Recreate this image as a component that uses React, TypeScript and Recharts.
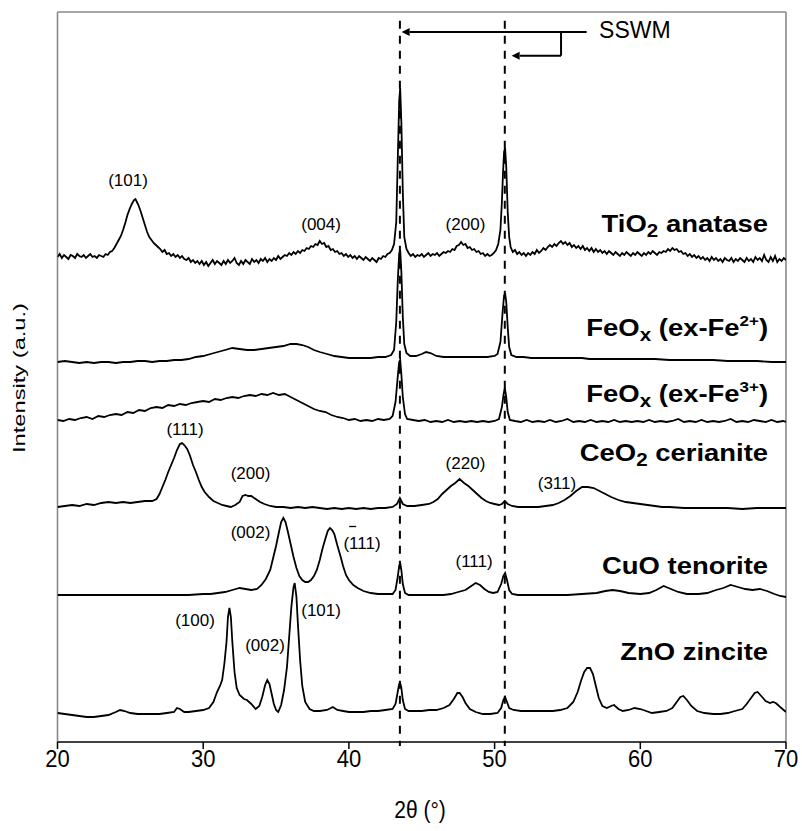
import React from "react";
import { LineChart, Line, XAxis, YAxis, ReferenceLine, ReferenceDot } from "recharts";

const FONT = "'Liberation Sans', Arial, Helvetica, sans-serif";

const X_TICKS = [20, 30, 40, 50, 60, 70];
const X_DOMAIN: [number, number] = [20, 70];
const Y_DOMAIN: [number, number] = [0, 730];

// 2theta (deg), stacked intensity (a.u.)
const TIO2: number[][] = [
  [20.0, 485], [20.15, 488], [20.3, 484], [20.45, 487], [20.6, 485], [20.75, 483], [20.9, 487], [21.05, 486], [21.2, 484], [21.35, 488],
  [21.5, 486], [21.65, 485], [21.8, 487], [21.95, 484], [22.1, 486], [22.25, 488], [22.4, 485], [22.55, 486], [22.7, 484], [22.85, 487],
  [23.0, 486], [23.15, 485], [23.3, 488], [23.45, 487], [23.6, 490], [23.75, 491], [23.9, 494], [24.05, 498], [24.2, 502], [24.35, 506],
  [24.5, 512], [24.65, 519], [24.8, 527], [24.95, 533], [25.1, 538], [25.25, 542], [25.35, 543], [25.45, 540], [25.55, 537], [25.7, 531],
  [25.85, 524], [26.0, 517], [26.15, 510], [26.3, 505], [26.45, 502], [26.6, 499], [26.75, 497], [26.9, 495], [27.05, 493], [27.2, 490],
  [27.35, 492], [27.5, 488], [27.65, 489], [27.8, 486], [27.95, 488], [28.1, 485], [28.25, 487], [28.4, 484], [28.55, 486], [28.7, 483],
  [28.85, 482], [29.0, 484], [29.15, 480], [29.3, 482], [29.45, 479], [29.6, 481], [29.75, 478], [29.9, 481], [30.05, 477], [30.2, 480],
  [30.35, 476], [30.5, 479], [30.65, 482], [30.8, 478], [30.95, 481], [31.1, 479], [31.25, 477], [31.4, 481], [31.55, 478], [31.7, 482],
  [31.85, 479], [32.0, 481], [32.15, 484], [32.3, 479], [32.45, 477], [32.6, 481], [32.75, 478], [32.9, 482], [33.05, 480], [33.2, 478],
  [33.35, 483], [33.5, 480], [33.65, 482], [33.8, 479], [33.95, 483], [34.1, 481], [34.25, 484], [34.4, 480], [34.55, 483], [34.7, 481],
  [34.85, 484], [35.0, 482], [35.15, 486], [35.3, 483], [35.45, 485], [35.6, 487], [35.75, 486], [35.9, 489], [36.05, 487], [36.2, 490],
  [36.35, 488], [36.5, 491], [36.65, 489], [36.8, 492], [36.95, 491], [37.1, 494], [37.25, 493], [37.4, 496], [37.55, 495], [37.7, 498],
  [37.85, 497], [38.0, 501], [38.15, 498], [38.3, 499], [38.45, 495], [38.6, 496], [38.75, 492], [38.9, 493], [39.05, 490], [39.2, 491],
  [39.35, 488], [39.5, 489], [39.65, 486], [39.8, 488], [39.95, 485], [40.1, 487], [40.25, 484], [40.4, 486], [40.55, 483], [40.7, 486],
  [40.85, 484], [41.0, 482], [41.15, 485], [41.3, 483], [41.45, 481], [41.6, 484], [41.75, 482], [41.9, 480], [42.05, 484], [42.2, 483],
  [42.35, 486], [42.5, 485], [42.65, 488], [42.8, 489], [42.95, 492], [43.1, 498], [43.25, 520], [43.35, 580], [43.45, 640], [43.52, 654],
  [43.6, 620], [43.7, 550], [43.8, 505], [43.95, 493], [44.1, 489], [44.25, 486], [44.4, 488], [44.55, 485], [44.7, 487], [44.85, 486],
  [45.0, 488], [45.15, 485], [45.3, 487], [45.45, 489], [45.6, 486], [45.75, 488], [45.9, 487], [46.05, 489], [46.2, 486], [46.35, 488],
  [46.5, 490], [46.65, 489], [46.8, 491], [46.95, 490], [47.1, 493], [47.25, 492], [47.4, 496], [47.55, 497], [47.7, 500], [47.85, 497],
  [48.0, 498], [48.15, 494], [48.3, 495], [48.45, 492], [48.6, 493], [48.75, 490], [48.9, 491], [49.05, 488], [49.2, 489], [49.35, 486],
  [49.5, 488], [49.65, 486], [49.8, 487], [49.95, 489], [50.1, 492], [50.25, 498], [50.4, 512], [50.5, 540], [50.58, 570], [50.65, 590],
  [50.72, 594], [50.8, 575], [50.9, 530], [51.0, 505], [51.1, 495], [51.25, 490], [51.4, 492], [51.55, 488], [51.7, 490], [51.85, 487],
  [52.0, 489], [52.15, 486], [52.3, 489], [52.45, 487], [52.6, 490], [52.75, 488], [52.9, 492], [53.05, 489], [53.2, 491], [53.35, 494],
  [53.5, 492], [53.65, 495], [53.8, 497], [53.95, 495], [54.1, 498], [54.25, 496], [54.4, 499], [54.55, 501], [54.7, 498], [54.85, 500],
  [55.0, 497], [55.15, 499], [55.3, 495], [55.45, 497], [55.6, 494], [55.75, 496], [55.9, 493], [56.05, 496], [56.2, 492], [56.35, 494],
  [56.5, 491], [56.65, 494], [56.8, 490], [56.95, 493], [57.1, 490], [57.25, 492], [57.4, 489], [57.55, 491], [57.7, 488], [57.85, 491],
  [58.0, 489], [58.15, 487], [58.3, 490], [58.45, 488], [58.6, 486], [58.75, 489], [58.9, 487], [59.05, 490], [59.2, 488], [59.35, 486],
  [59.5, 489], [59.65, 487], [59.8, 490], [59.95, 488], [60.1, 486], [60.25, 489], [60.4, 487], [60.55, 490], [60.7, 488], [60.85, 491],
  [61.0, 489], [61.15, 487], [61.3, 490], [61.45, 489], [61.6, 491], [61.75, 490], [61.9, 493], [62.05, 491], [62.2, 494], [62.35, 492],
  [62.5, 493], [62.65, 490], [62.8, 491], [62.95, 488], [63.1, 489], [63.25, 486], [63.4, 488], [63.55, 485], [63.7, 487], [63.85, 484],
  [64.0, 486], [64.15, 483], [64.3, 485], [64.45, 482], [64.6, 484], [64.75, 481], [64.9, 485], [65.05, 482], [65.2, 484], [65.35, 481],
  [65.5, 483], [65.65, 480], [65.8, 484], [65.95, 482], [66.1, 481], [66.25, 484], [66.4, 480], [66.55, 483], [66.7, 481], [66.85, 484],
  [67.0, 482], [67.15, 480], [67.3, 484], [67.45, 481], [67.6, 483], [67.75, 480], [67.9, 485], [68.05, 482], [68.2, 484], [68.35, 481],
  [68.5, 487], [68.65, 482], [68.8, 480], [68.95, 485], [69.1, 481], [69.25, 486], [69.4, 480], [69.55, 483], [69.7, 481], [69.85, 484],
  [70.0, 482],
];

const FEOX_FE2: number[][] = [
  [20.0, 380], [20.5, 381], [21.0, 380], [21.5, 379], [22.0, 380], [22.5, 379], [23.0, 380], [23.5, 380], [24.0, 379], [24.5, 380],
  [25.0, 380], [25.5, 381], [26.0, 381], [26.5, 380], [27.0, 381], [27.5, 381], [28.0, 382], [28.5, 382], [29.0, 383], [29.5, 385],
  [30.0, 386], [30.5, 388], [31.0, 390], [31.5, 392], [32.0, 394], [32.5, 393], [33.0, 392], [33.5, 392], [34.0, 393], [34.5, 394],
  [35.0, 395], [35.5, 396], [36.0, 398], [36.4, 398], [36.8, 397], [37.2, 395], [37.6, 392], [38.0, 390], [38.5, 388], [39.0, 386],
  [39.5, 385], [40.0, 384], [40.5, 384], [41.0, 384], [41.5, 384], [42.0, 385], [42.5, 385], [42.9, 387], [43.1, 392], [43.25, 420],
  [43.35, 460], [43.45, 488], [43.52, 492], [43.6, 470], [43.7, 425], [43.8, 398], [43.95, 389], [44.2, 386], [44.6, 386], [45.0, 388],
  [45.3, 390], [45.6, 389], [46.0, 386], [46.5, 385], [47.0, 385], [47.5, 385], [48.0, 385], [48.5, 385], [49.0, 385], [49.5, 385],
  [50.0, 386], [50.2, 388], [50.4, 400], [50.55, 430], [50.65, 446], [50.72, 449], [50.8, 440], [50.9, 415], [51.0, 395], [51.15, 387],
  [51.5, 385], [52.0, 385], [52.5, 384], [53.0, 384], [53.5, 384], [54.0, 384], [54.5, 384], [55.0, 384], [55.5, 384], [56.0, 384],
  [56.5, 383], [57.0, 383], [58.0, 383], [59.0, 383], [60.0, 383], [61.0, 383], [62.0, 382], [63.0, 382], [64.0, 382], [65.0, 382],
  [66.0, 381], [67.0, 381], [68.0, 381], [69.0, 380], [70.0, 380],
];

const FEOX_FE3: number[][] = [
  [20.0, 322], [20.4, 321], [20.8, 323], [21.2, 322], [21.6, 324], [22.0, 325], [22.4, 323], [22.8, 326], [23.2, 325], [23.6, 327],
  [24.0, 328], [24.4, 327], [24.8, 330], [25.2, 329], [25.6, 332], [26.0, 331], [26.4, 334], [26.8, 335], [27.2, 334], [27.6, 337],
  [28.0, 336], [28.4, 338], [28.8, 337], [29.2, 339], [29.6, 340], [30.0, 341], [30.4, 340], [30.8, 343], [31.2, 342], [31.6, 344],
  [32.0, 345], [32.4, 344], [32.8, 346], [33.2, 347], [33.6, 346], [34.0, 348], [34.4, 347], [34.8, 349], [35.2, 347], [35.6, 348],
  [36.0, 345], [36.4, 342], [36.8, 339], [37.2, 336], [37.6, 333], [38.0, 331], [38.4, 330], [38.8, 327], [39.2, 325], [39.6, 324],
  [40.0, 322], [40.4, 323], [40.8, 321], [41.2, 322], [41.6, 321], [42.0, 323], [42.4, 322], [42.8, 323], [43.0, 326], [43.2, 340],
  [43.35, 365], [43.45, 380], [43.52, 382], [43.6, 368], [43.7, 345], [43.85, 328], [44.0, 323], [44.4, 322], [44.8, 321], [45.2, 322],
  [45.6, 320], [46.0, 321], [46.4, 320], [46.8, 322], [47.2, 320], [47.6, 321], [48.0, 320], [48.4, 321], [48.8, 320], [49.2, 321],
  [49.6, 320], [50.0, 321], [50.3, 323], [50.5, 335], [50.62, 348], [50.7, 354], [50.8, 345], [50.9, 330], [51.05, 322], [51.4, 321],
  [51.8, 320], [52.2, 322], [52.6, 320], [53.0, 321], [53.4, 320], [53.8, 322], [54.2, 320], [54.6, 321], [55.0, 323], [55.4, 320],
  [55.8, 321], [56.2, 320], [56.6, 322], [57.0, 320], [57.4, 321], [57.8, 320], [58.2, 322], [58.6, 320], [59.0, 321], [59.4, 320],
  [59.8, 321], [60.2, 320], [60.6, 322], [61.0, 320], [61.4, 321], [61.8, 320], [62.2, 321], [62.6, 323], [63.0, 320], [63.4, 321],
  [63.8, 320], [64.2, 322], [64.6, 320], [65.0, 321], [65.4, 320], [65.8, 321], [66.2, 323], [66.6, 320], [67.0, 321], [67.4, 320],
  [67.8, 322], [68.2, 321], [68.6, 320], [69.0, 322], [69.4, 320], [69.8, 321], [70.0, 320],
];

const CEO2: number[][] = [
  [20.0, 235], [20.5, 236], [21.0, 237], [21.5, 236], [22.0, 238], [22.5, 237], [23.0, 239], [23.5, 240], [24.0, 239], [24.5, 240],
  [25.0, 239], [25.5, 240], [26.0, 241], [26.5, 241], [26.8, 243], [27.0, 248], [27.2, 255], [27.4, 262], [27.6, 270], [27.8, 277],
  [28.0, 284], [28.2, 292], [28.4, 298], [28.55, 299], [28.7, 297], [28.9, 293], [29.1, 286], [29.3, 277], [29.5, 270], [29.7, 262],
  [29.9, 255], [30.1, 250], [30.4, 245], [30.7, 241], [31.0, 239], [31.3, 237], [31.6, 236], [31.9, 235], [32.2, 237], [32.5, 240],
  [32.7, 246], [32.9, 247], [33.1, 246], [33.3, 246], [33.6, 243], [33.9, 240], [34.2, 238], [34.6, 236], [35.0, 235], [35.5, 235],
  [36.0, 234], [36.5, 235], [37.0, 234], [37.5, 235], [38.0, 234], [38.5, 233], [39.0, 234], [39.5, 233], [40.0, 234], [40.5, 233],
  [41.0, 234], [41.5, 233], [42.0, 234], [42.5, 234], [43.0, 235], [43.3, 238], [43.5, 244], [43.7, 238], [44.0, 236], [44.5, 236],
  [45.0, 237], [45.5, 238], [45.8, 240], [46.1, 243], [46.4, 248], [46.7, 252], [47.0, 256], [47.3, 259], [47.6, 263], [47.9, 259],
  [48.2, 256], [48.5, 252], [48.8, 248], [49.1, 244], [49.4, 241], [49.7, 239], [50.0, 238], [50.3, 237], [50.5, 238], [50.7, 241],
  [50.9, 238], [51.2, 236], [51.6, 235], [52.0, 235], [52.5, 235], [53.0, 235], [53.5, 236], [54.0, 237], [54.4, 239], [54.8, 242],
  [55.2, 246], [55.6, 251], [56.0, 255], [56.4, 255], [56.8, 254], [57.2, 251], [57.6, 248], [58.0, 245], [58.5, 242], [59.0, 240],
  [59.5, 239], [60.0, 238], [60.5, 237], [61.0, 236], [61.5, 235], [62.0, 235], [63.0, 234], [64.0, 234], [65.0, 234], [66.0, 234],
  [67.0, 233], [68.0, 234], [69.0, 234], [70.0, 234],
];

const CUO: number[][] = [
  [20.0, 147], [21.0, 147], [22.0, 147], [23.0, 147], [24.0, 147], [25.0, 147], [26.0, 147], [27.0, 147], [28.0, 147], [29.0, 147],
  [30.0, 148], [30.5, 148], [31.0, 149], [31.5, 150], [32.0, 152], [32.5, 154], [32.9, 153], [33.3, 152], [33.7, 153], [34.0, 157],
  [34.3, 163], [34.6, 172], [34.8, 184], [35.0, 196], [35.2, 210], [35.35, 220], [35.5, 224], [35.65, 220], [35.8, 211], [36.0, 198],
  [36.2, 185], [36.4, 174], [36.6, 166], [36.8, 162], [37.0, 160], [37.2, 160], [37.4, 162], [37.6, 166], [37.8, 172], [38.0, 182],
  [38.2, 194], [38.4, 204], [38.55, 211], [38.7, 214], [38.85, 212], [39.0, 208], [39.2, 197], [39.4, 187], [39.6, 176], [39.8, 167],
  [40.0, 162], [40.3, 157], [40.6, 154], [41.0, 151], [41.5, 149], [42.0, 148], [42.5, 148], [43.0, 148], [43.2, 152], [43.35, 165],
  [43.45, 176], [43.52, 179], [43.6, 172], [43.7, 158], [43.85, 149], [44.1, 147], [44.5, 147], [45.0, 147], [45.5, 147], [46.0, 147],
  [46.5, 147], [47.0, 148], [47.5, 150], [48.0, 152], [48.4, 156], [48.7, 159], [49.0, 157], [49.3, 153], [49.6, 150], [49.9, 149],
  [50.2, 150], [50.45, 158], [50.6, 166], [50.72, 169], [50.85, 162], [51.0, 152], [51.2, 148], [51.6, 147], [52.0, 147], [53.0, 147],
  [54.0, 147], [55.0, 147], [56.0, 148], [57.0, 149], [57.6, 151], [58.1, 152], [58.6, 151], [59.2, 149], [60.0, 148], [60.6, 149],
  [61.1, 152], [61.6, 156], [62.1, 153], [62.6, 150], [63.2, 148], [64.0, 148], [64.6, 149], [65.2, 152], [65.7, 154], [66.2, 157],
  [66.7, 155], [67.2, 153], [67.7, 152], [68.2, 153], [68.7, 151], [69.2, 148], [69.6, 146], [70.0, 145],
];

const ZNO: number[][] = [
  [20.0, 29], [20.5, 28], [21.0, 27], [21.5, 26], [22.0, 25], [22.5, 25], [23.0, 26], [23.5, 27], [24.0, 30], [24.3, 32],
  [24.6, 31], [25.0, 29], [25.5, 28], [26.0, 28], [26.5, 28], [27.0, 28], [27.5, 29], [28.0, 30], [28.2, 34], [28.4, 33],
  [28.7, 30], [29.0, 30], [29.5, 31], [30.0, 32], [30.4, 34], [30.7, 40], [30.95, 50], [31.15, 56], [31.3, 62], [31.45, 78],
  [31.6, 100], [31.7, 125], [31.8, 134], [31.9, 125], [32.0, 100], [32.15, 70], [32.3, 54], [32.5, 47], [32.8, 43], [33.0, 42],
  [33.3, 38], [33.6, 33], [33.85, 36], [34.05, 45], [34.25, 57], [34.4, 62], [34.55, 58], [34.7, 48], [34.85, 38], [35.0, 32],
  [35.15, 30], [35.35, 37], [35.55, 52], [35.75, 75], [35.9, 105], [36.05, 135], [36.2, 155], [36.28, 159], [36.4, 145], [36.5, 118],
  [36.65, 82], [36.8, 56], [37.0, 40], [37.3, 33], [37.6, 31], [38.0, 31], [38.5, 32], [38.9, 35], [39.2, 32], [39.6, 31],
  [40.0, 30], [40.5, 30], [41.0, 30], [41.5, 31], [42.0, 31], [42.5, 32], [43.0, 33], [43.2, 38], [43.35, 50], [43.45, 58],
  [43.52, 59], [43.6, 54], [43.7, 42], [43.85, 33], [44.1, 31], [44.5, 31], [45.0, 31], [45.5, 32], [46.0, 32], [46.5, 34],
  [46.9, 37], [47.2, 43], [47.45, 49], [47.6, 49], [47.8, 45], [48.0, 39], [48.3, 33], [48.7, 30], [49.2, 28], [49.7, 28],
  [50.2, 29], [50.45, 34], [50.6, 42], [50.72, 45], [50.85, 40], [51.0, 34], [51.3, 32], [51.8, 31], [52.5, 31], [53.0, 31],
  [53.5, 31], [54.0, 31], [54.5, 32], [55.0, 34], [55.4, 40], [55.7, 50], [55.95, 62], [56.15, 70], [56.35, 74], [56.55, 74],
  [56.75, 68], [56.95, 56], [57.15, 44], [57.4, 36], [57.7, 34], [58.0, 36], [58.2, 37], [58.5, 33], [58.8, 31], [59.2, 32],
  [59.6, 34], [60.0, 33], [60.4, 31], [60.8, 29], [61.3, 30], [61.8, 31], [62.2, 34], [62.5, 40], [62.75, 45], [62.95, 46],
  [63.2, 42], [63.5, 36], [63.9, 31], [64.4, 29], [65.0, 28], [65.5, 28], [66.0, 29], [66.5, 31], [67.0, 33], [67.3, 38],
  [67.6, 44], [67.85, 49], [68.05, 50], [68.3, 46], [68.6, 41], [68.9, 39], [69.1, 40], [69.3, 39], [69.6, 35], [70.0, 30],
];

const SERIES_KEYS = ["tio2", "fe2", "fe3", "ceo2", "cuo", "zno"];
const SERIES_POINTS = [TIO2, FEOX_FE2, FEOX_FE3, CEO2, CUO, ZNO];

// Sample names (rich text parts), right-aligned at NAME_X
type Part = { t: string; s?: "sub" | "sup" };
const SAMPLE_NAMES: Part[][] = [
  [{ t: "TiO" }, { t: "2", s: "sub" }, { t: " anatase" }],
  [{ t: "FeO" }, { t: "x", s: "sub" }, { t: " (ex-Fe" }, { t: "2+", s: "sup" }, { t: ")" }],
  [{ t: "FeO" }, { t: "x", s: "sub" }, { t: " (ex-Fe" }, { t: "3+", s: "sup" }, { t: ")" }],
  [{ t: "CeO" }, { t: "2", s: "sub" }, { t: " cerianite" }],
  [{ t: "CuO tenorite" }],
  [{ t: "ZnO zincite" }],
];
const NAME_X = 68.77;
const NAME_Y = [510, 406, 339.7, 281, 167.7, 82];

// Miller index annotations
const HKL_TEXT = ["(101)", "(004)", "(200)", "(111)", "(200)", "(220)", "(311)", "(002)", "(111)", "(111)", "(100)", "(002)", "(101)"];
const HKL_X = [24.84, 38.09, 48.0, 28.75, 33.25, 48.0, 54.28, 33.25, 40.9, 48.59, 29.44, 34.24, 38.09];
const HKL_Y = [556.5, 512.5, 512.5, 307.5, 263.5, 273.5, 253.5, 204, 193.5, 175.5, 116, 91, 126];
const HKL_BAR = [false, false, false, false, false, false, false, false, true, false, false, false, false];

// SSWM reflections (dashed) and annotation
const SSWM_PEAKS = [43.5, 50.7];
const SSWM_DASH_TOP = 721.3;
const SSWM_DASH_BOTTOM = -4;
const SSWM_TEXT = "SSWM";
const SSWM_TEXT_POS = [57.17, 703.7];
const ARROW_MAIN = [[56.32, 710], [43.62, 710]];
const ARROW_BRANCH = [[54.56, 710], [54.56, 686.3], [51.17, 686.3]];

const XLABEL_POS = [44.88, -76];
const YLABEL_POS = [17.54, 364];

const rows = (pts: number[][]) => pts.map(([x, y]) => ({ x, y }));

const arrowShape = (withHead: boolean) => (p: any) => {
  const { x1, y1, x2, y2 } = p;
  const dx = x2 - x1;
  const dy = y2 - y1;
  const len = Math.sqrt(dx * dx + dy * dy) || 1;
  const ux = dx / len;
  const uy = dy / len;
  const hl = 8;
  const hw = 4;
  const bx = x2 - ux * hl;
  const by = y2 - uy * hl;
  const pts = `${x2},${y2} ${bx - uy * hw},${by + ux * hw} ${bx + uy * hw},${by - ux * hw}`;
  return (
    <g>
      <line x1={x1} y1={y1} x2={withHead ? bx : x2} y2={withHead ? by : y2} stroke="#000" strokeWidth={2} />
      {withHead && <polygon points={pts} fill="#000" />}
    </g>
  );
};

const renderName = (parts: Part[]) => (p: any) => {
  const { cx, cy } = p;
  let prev = 0;
  return (
    <text
      transform={`translate(${cx},${cy}) scale(1.12,1)`}
      x={0}
      y={0}
      textAnchor="end"
      fontFamily={FONT}
      fontWeight="bold"
      fontSize={24.5}
      fill="#000"
    >
      {parts.map((part, i) => {
        const shift = part.s === "sub" ? 5 : part.s === "sup" ? -10 : 0;
        const d = shift - prev;
        prev = shift;
        const fs = part.s === "sub" ? "0.75em" : part.s === "sup" ? "0.62em" : undefined;
        return (
          <tspan key={i} dy={d} fontSize={fs}>
            {part.t}
          </tspan>
        );
      })}
    </text>
  );
};

const renderHkl = (text: string, bar: boolean) => (p: any) => {
  const { cx, cy } = p;
  const w = 2.334 * 17;
  const left = cx - w / 2;
  return (
    <g>
      <text x={cx} y={cy} textAnchor="middle" fontFamily={FONT} fontSize={17} fill="#000">
        {text}
      </text>
      {bar && <line x1={left + 7} x2={left + 14} y1={cy - 22} y2={cy - 22} stroke="#000" strokeWidth={1.3} />}
    </g>
  );
};

const renderTick = (p: any) => {
  const { x, y, payload } = p;
  return (
    <text
      transform={`translate(${x},${y + 16}) scale(1,1.12)`}
      x={0}
      y={0}
      textAnchor="middle"
      fontFamily={FONT}
      fontSize={22}
      fill="#000"
    >
      {payload.value}
    </text>
  );
};

export default function App() {
  return (
    <div style={{ position: "absolute", left: 0, top: 0, width: 802, height: 831, background: "#fff" }}>
      <LineChart width={802} height={831} margin={{ top: 12, right: 16, left: 57.5, bottom: 29 }}>
        <XAxis
          type="number"
          dataKey="x"
          domain={X_DOMAIN}
          ticks={X_TICKS}
          allowDataOverflow
          height={60}
          tickSize={7}
          tickMargin={2}
          axisLine={{ stroke: "#000", strokeWidth: 1.5 }}
          tickLine={{ stroke: "#000", strokeWidth: 1.5 }}
          tick={renderTick}
        />
        <YAxis type="number" domain={Y_DOMAIN} hide allowDataOverflow />

        {/* frame */}
        <ReferenceLine x={20} stroke="#8a8a8a" strokeWidth={1.6} ifOverflow="visible" />
        <ReferenceLine x={70} stroke="#8a8a8a" strokeWidth={1.6} ifOverflow="visible" />
        <ReferenceLine y={730} stroke="#8a8a8a" strokeWidth={1.6} ifOverflow="visible" />

        {SSWM_PEAKS.map((px) => (
          <ReferenceLine
            key={px}
            segment={[{ x: px, y: SSWM_DASH_TOP }, { x: px, y: SSWM_DASH_BOTTOM }]}
            stroke="#000"
            strokeWidth={2}
            strokeDasharray="8 7"
            ifOverflow="visible"
          />
        ))}

        {SERIES_POINTS.map((pts, i) => (
          <Line
            key={SERIES_KEYS[i]}
            data={rows(pts)}
            dataKey="y"
            type="linear"
            stroke="#000"
            strokeWidth={1.8}
            dot={false}
            activeDot={false}
            isAnimationActive={false}
          />
        ))}

        <ReferenceLine
          segment={[{ x: ARROW_MAIN[0][0], y: ARROW_MAIN[0][1] }, { x: ARROW_MAIN[1][0], y: ARROW_MAIN[1][1] }]}
          ifOverflow="visible"
          shape={arrowShape(true)}
        />
        <ReferenceLine
          segment={[{ x: ARROW_BRANCH[0][0], y: ARROW_BRANCH[0][1] }, { x: ARROW_BRANCH[1][0], y: ARROW_BRANCH[1][1] }]}
          ifOverflow="visible"
          shape={arrowShape(false)}
        />
        <ReferenceLine
          segment={[{ x: ARROW_BRANCH[1][0], y: ARROW_BRANCH[1][1] }, { x: ARROW_BRANCH[2][0], y: ARROW_BRANCH[2][1] }]}
          ifOverflow="visible"
          shape={arrowShape(true)}
        />
        <ReferenceDot
          x={SSWM_TEXT_POS[0]}
          y={SSWM_TEXT_POS[1]}
          r={0}
          ifOverflow="visible"
          shape={(p: any) => (
            <text x={p.cx} y={p.cy} fontFamily={FONT} fontSize={23} fill="#000">
              {SSWM_TEXT}
            </text>
          )}
        />

        {SAMPLE_NAMES.map((parts, i) => (
          <ReferenceDot key={"n" + i} x={NAME_X} y={NAME_Y[i]} r={0} ifOverflow="visible" shape={renderName(parts)} />
        ))}

        {HKL_TEXT.map((t, i) => (
          <ReferenceDot key={"h" + i} x={HKL_X[i]} y={HKL_Y[i]} r={0} ifOverflow="visible" shape={renderHkl(t, HKL_BAR[i])} />
        ))}

        <ReferenceDot
          x={XLABEL_POS[0]}
          y={XLABEL_POS[1]}
          r={0}
          ifOverflow="visible"
          shape={(p: any) => (
            <text
              transform={`translate(${p.cx},${p.cy}) scale(1,1.12)`}
              x={0}
              y={0}
              textAnchor="middle"
              fontFamily={FONT}
              fontSize={21}
              fill="#000"
            >
              2θ (°)
            </text>
          )}
        />
        <ReferenceDot
          x={YLABEL_POS[0]}
          y={YLABEL_POS[1]}
          r={0}
          ifOverflow="visible"
          shape={(p: any) => (
            <text
              transform={`translate(${p.cx + 3},${p.cy}) rotate(-90)`}
              x={0}
              y={0}
              textAnchor="middle"
              fontFamily={FONT}
              fontSize={16}
              fill="#000"
              textLength={150}
              lengthAdjust="spacingAndGlyphs"
            >
              Intensity (a.u.)
            </text>
          )}
        />
      </LineChart>
    </div>
  );
}
